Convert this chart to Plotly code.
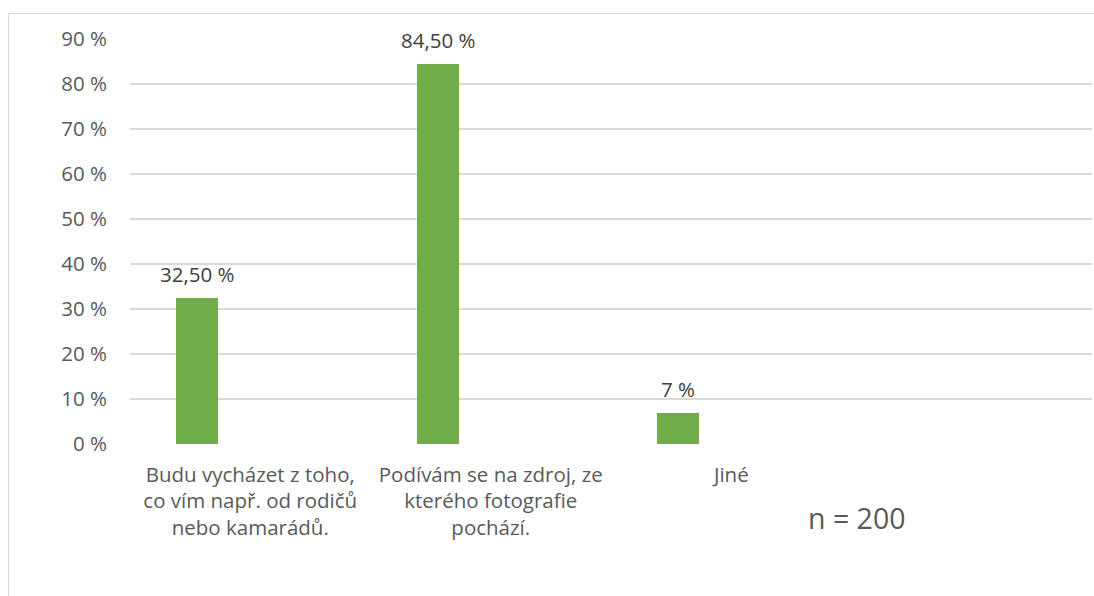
import plotly.graph_objects as go

categories = [
    "Budu vycházet z toho,<br>co vím např. od rodičů<br>nebo kamarádů.",
    "Podívám se na zdroj, ze<br>kterého fotografie<br>pochází.",
    "Jiné",
]
values = [32.5, 84.5, 7]
value_labels = ["32,50 %", "84,50 %", "7 %"]
y_ticks = [0, 10, 20, 30, 40, 50, 60, 70, 80, 90]
note_text = "n = 200"

BAR_COLOR = "#70ad47"
FONT = "Open Sans"
FS = 20.5

W, H = 1094, 596
L, R, T, B = 130, 2, 39, 152
PW = W - L - R
PH = H - T - B

fig = go.Figure()
fig.add_trace(go.Bar(
    x=categories,
    y=values,
    marker=dict(color=BAR_COLOR, line=dict(width=0)),
    width=0.175,
    offset=-0.308,
    hoverinfo="skip",
))

for c, v, t in zip(categories, values, value_labels):
    fig.add_annotation(
        x=c, y=v, text=t, showarrow=False,
        xref="x", yref="y", xshift=-53, yshift=24,
        xanchor="center", yanchor="middle",
        font=dict(family=FONT, size=FS, color="#404040"),
    )

fig.add_annotation(
    x=(856 - L) / PW, y=(T + PH - 518) / PH, xref="paper", yref="paper",
    text=note_text, showarrow=False, xanchor="center", yanchor="middle",
    font=dict(family=FONT, size=28.5, color="#595959"),
)

fig.add_shape(
    type="rect", xref="paper", yref="paper",
    x0=(8.5 - L) / PW, x1=1.2, y0=-1, y1=(T + PH - 13.5) / PH,
    line=dict(color="#d9d9d9", width=1), fillcolor="rgba(0,0,0,0)",
    layer="below",
)

fig.update_layout(
    width=W, height=H, autosize=False,
    margin=dict(l=L, r=R, t=T, b=B),
    paper_bgcolor="white", plot_bgcolor="white",
    showlegend=False,
    bargap=0,
    font=dict(family=FONT, size=FS, color="#595959"),
    xaxis=dict(
        type="category",
        range=[-0.5, 3.5],
        showgrid=False, zeroline=False, showline=False,
        ticks="", ticklabelstandoff=16,
        tickfont=dict(family=FONT, size=FS, color="#595959"),
    ),
    yaxis=dict(
        range=[0, 90],
        tickvals=y_ticks,
        ticktext=[f"{t} %" for t in y_ticks],
        showgrid=True, gridcolor="#d9d9d9", gridwidth=1.5,
        zeroline=False, showline=False, ticks="",
        ticklabelstandoff=22,
        tickfont=dict(family=FONT, size=FS, color="#595959"),
    ),
)

post = (
    "document.documentElement.style.overflow='hidden';"
    "document.body.style.margin='0';"
    "document.body.style.overflow='hidden';"
    "Plotly.relayout(document.getElementById('{plot_id}'), {width: 1094, height: 596});"
)

fig.write_html(
    "out.html",
    config={"responsive": False, "displayModeBar": False},
    post_script=post,
)
